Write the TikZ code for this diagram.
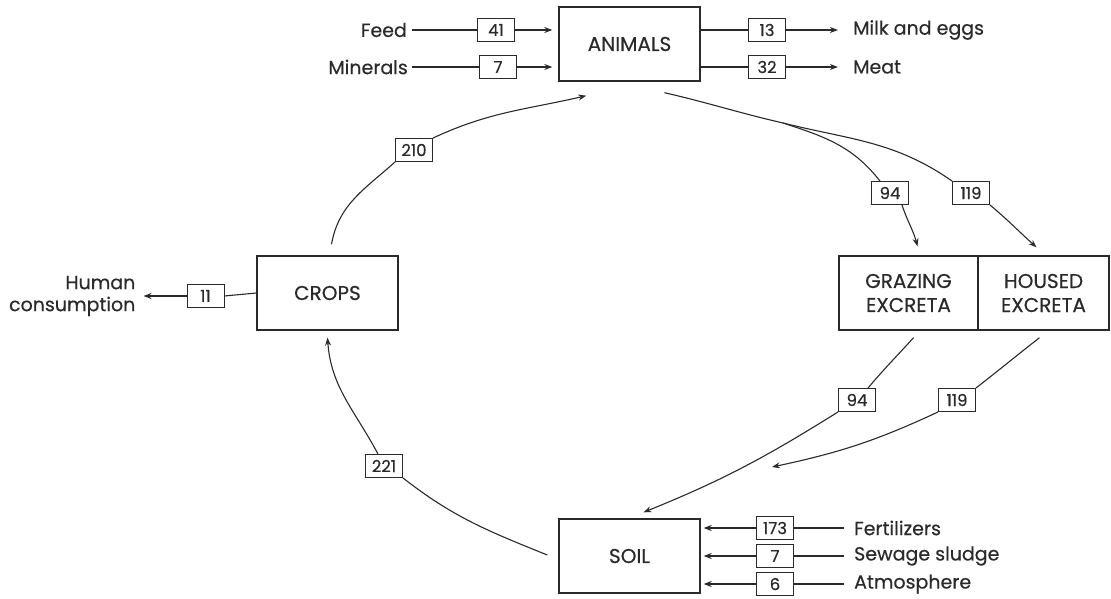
\documentclass[tikz,border=0pt]{standalone}
\usepackage{fontspec}
\setmainfont{Poppins}[FakeBold=0.4]
\usetikzlibrary{arrows.meta,positioning,calc}
\definecolor{ink}{HTML}{2A2A2A}
\tikzset{
  blk/.style ={draw=ink,line width=1.4pt,align=center,text=ink,
               font=\fontsize{20}{24}\selectfont,minimum width=141pt,minimum height=74pt},
  num/.style ={draw=ink,line width=.9pt,fill=white,text=ink,inner sep=1pt,
               font=\fontsize{16.5}{18}\selectfont,minimum width=37pt,minimum height=23pt},
  lbl/.style ={text=ink,inner sep=0pt,font=\fontsize{19}{22}\selectfont},
  ln/.style  ={draw=ink,line width=1.1pt},
  a/.style   ={-{Stealth[length=8pt,width=6pt]},line width=1.1pt,ink},
}
\begin{document}
\begin{tikzpicture}[x=1pt,y=1pt]
  \useasboundingbox (0,0) rectangle (1111,598);
  % compartments
  \node[blk] (animals) at (629.5,554) {ANIMALS};
  \node[blk] (crops)   at (327.5,305) {CROPS};
  \node[blk,minimum width=139pt] (grazing) at (908.5,305) {GRAZING\\EXCRETA};
  \node[blk,minimum width=131pt] (housed)  at (1043.5,305) {HOUSED\\EXCRETA};
  \node[blk] (soil)    at (629.5,42) {SOIL};
  % flow values
  \node[num] (n41)   at (496,568) {41};
  \node[num] (n7a)   at (498,531) {7};
  \node[num] (n13)   at (767,568) {13};
  \node[num] (n32)   at (767,531) {32};
  \node[num] (n210)  at (414,448) {210};
  \node[num] (n11)   at (205.5,302) {11};
  \node[num] (n221)  at (384,132) {221};
  \node[num] (n94a)  at (890,405) {94};
  \node[num] (n119a) at (971,405) {119};
  \node[num] (n94b)  at (857,198) {94};
  \node[num] (n119b) at (957,198) {119};
  \node[num] (n173)  at (775,70) {173};
  \node[num] (n7b)   at (775,42) {7};
  \node[num] (n6)    at (775,14) {6};
  % inputs and outputs
  \node[lbl,left=70pt of n41]   (feed)  {Feed};
  \node[lbl,left=71pt of n7a]   (minr)  {Minerals};
  \node[lbl,right=67pt of n13,anchor=west] (milk) {Milk and eggs};
  \node[lbl,right=67pt of n32,anchor=west] (meat) {Meat};
  \node[lbl,left=51pt of n11,align=right] (human) {Human\\consumption};
  \node[lbl,right=60pt of n173,anchor=west] (fert) {Fertilizers};
  \node[lbl,right=60pt of n7b,anchor=west]  (sew)  {Sewage sludge};
  \node[lbl,right=60pt of n6,anchor=west]   (atm)  {Atmosphere};
  \coordinate (split) at (783,475);
  \coordinate (mix) at (772,131);

  \draw[ln] ([xshift=5pt]feed.east) -- (n41.west);
  \draw[ln] ([xshift=4pt]minr.east) -- (n7a.west);
  \draw[a,shorten >=6pt] (n41.east) -- (n41 -| animals.west);
  \draw[a,shorten >=6pt] (n7a.east) -- (n7a -| animals.west);
  \draw[ln] (n13 -| animals.east) -- (n13.west);
  \draw[ln] (n32 -| animals.east) -- (n32.west);
  \draw[a,shorten >=15pt] (n13.east) -- (milk.west);
  \draw[a,shorten >=15pt] (n32.east) -- (meat.west);
  \draw[ln] (crops.west) -- (n11.east);
  \draw[a,shorten >=8pt] (n11.west) -- (human.east |- n11);
  \foreach \n/\t in {n173/fert,n7b/sew,n6/atm}{
    \draw[ln,shorten <=10pt] (\t.west |- \n) -- (\n.east);
    \draw[a,shorten >=3pt] (\n.west) -- (\n -| soil.east);
  }
  % cycle
  \draw[ln] ([xshift=4pt,yshift=11pt]crops.north) to[out=80,in=222] (n210.south west);
  \draw[a] (n210.north east) to[out=25,in=193] ([xshift=28pt,yshift=-14pt]animals.south west);
  \draw[ln] ([xshift=35pt,yshift=-11pt]animals.south) to[out=-13,in=167] (split);
  \draw[ln] (split) to[out=-18,in=128] ([xshift=-10pt]n94a.north);
  \draw[ln] (split) to[out=-14,in=145] (n119a.north west);
  \draw[a] ([xshift=12pt]n94a.south) to[out=-72,in=105] ([xshift=9pt,yshift=9pt]grazing.north);
  \draw[a] (n119a.south east) to[out=-40,in=138] ([xshift=-7pt,yshift=8pt]housed.north);
  \draw[ln] ([xshift=5pt,yshift=-7pt]grazing.south) to[out=228,in=50] ([xshift=11pt]n94b.north);
  \draw[a] (n94b.south west) to[out=212,in=22] ([xshift=14pt,yshift=6pt]soil.north);
  \draw[ln] ([xshift=-4pt,yshift=-7pt]housed.south) to[out=218,in=38] (n119b.north east);
  \draw[a] (n119b.south west) to[out=205,in=12] (mix);
  \draw[ln] ([xshift=-11pt,yshift=1pt]soil.west) to[out=158,in=-38] (n221.south east);
  \draw[a] ([xshift=-6pt]n221.north) to[out=118,in=-86] ([yshift=-7pt]crops.south);
\end{tikzpicture}
\end{document}
